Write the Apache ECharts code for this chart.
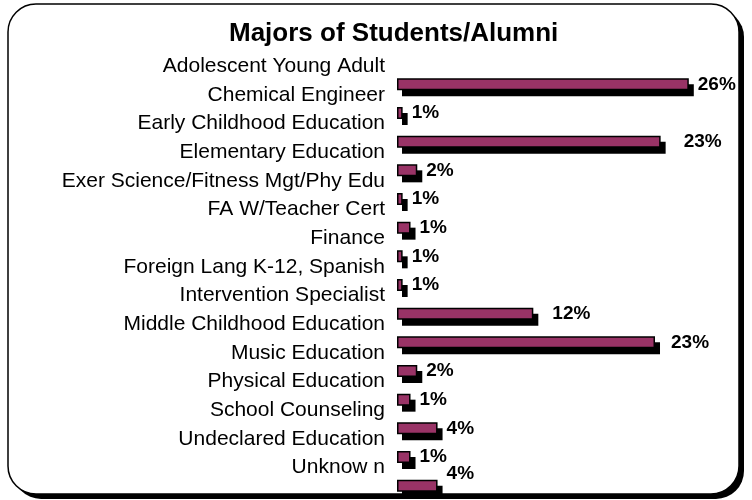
<!DOCTYPE html>
<html>
<head>
<meta charset="utf-8">
<script src="https://cdn.jsdelivr.net/npm/echarts@6/dist/echarts.min.js"></script>
<style>
html, body { margin: 0; padding: 0; background: #fff; }
#main { width: 752px; height: 500px; }
</style>
</head>
<body>
<div id="main"></div>
<script>
// 专业分布数据
var majors = [
	'Adolescent Young Adult',
	'Chemical Engineer',
	'Early Childhood Education',
	'Elementary Education',
	'Exer Science/Fitness Mgt/Phy Edu',
	'FA W/Teacher Cert',
	'Finance',
	'Foreign Lang K-12, Spanish',
	'Intervention Specialist',
	'Middle Childhood Education',
	'Music Education',
	'Physical Education',
	'School Counseling',
	'Undeclared Education',
	'Unknow n'
];
var shares = [25.9, 0.5, 23.4, 1.8, 0.5, 1.2, 0.5, 0.5, 12.1, 22.9, 1.8, 1.2, 3.6, 1.2, 3.6];

// Excel 的标签有些偏移
var labelNudge = { 2: [14, 0], 8: [10, 0], 9: [7, 0], 14: [0, -12] };

var myChart = echarts.init(document.getElementById('main'));

var seriesData = shares.map(function (v, i) {
	var item = { value: v };
	if (labelNudge[i]) {
		item.label = { offset: labelNudge[i] };
	}
	return item;
});
var shadowData = shares.map(function (v, i) {
	return [v, majors[i]];
});

var BAR_H = 12;

option = {
	animation: false,
	title: {
		text: 'Majors of Students/Alumni',
		left: 224,
		top: 16,
		z: 10,
		textStyle: {
			fontFamily: 'Liberation Sans, Arial',
			fontSize: 26,
			fontWeight: 'bold',
			color: '#000'
		}
	},
	graphic: [
		{   // 边框阴影
			type: 'rect',
			z: 0,
			shape: { x: 13, y: 9, width: 731, height: 490, r: 28 },
			style: { fill: '#000' }
		},
		{
			type: 'rect',
			z: 1,
			shape: { x: 8, y: 4, width: 731, height: 490, r: 28 },
			style: { fill: '#fff', stroke: '#000', lineWidth: 1.5 }
		}
	],
	grid: {
		left: 397,
		right: 17,
		top: 70,
		bottom: -4,
		containLabel: false
	},
	xAxis: {
		type: 'value',
		min: 0,
		max: 30,
		show: false
	},
	yAxis: {
		type: 'category',
		data: majors,
		inverse: true,
		z: 10,
		axisLine: { show: false },
		axisTick: { show: false },
		axisLabel: {
			interval: 0,
			margin: 12,
			formatter: function (v) {
				return '{t|' + v + '}';
			},
			rich: {
				t: {
					fontFamily: 'Liberation Sans, Arial',
					fontSize: 21,
					color: '#000',
					padding: [0, 0, 36, 0]
				}
			}
		}
	},
	series: [
		{   // 黑色阴影
			type: 'custom',
			z: 2,
			silent: true,
			data: shadowData,
			renderItem: function (params, api) {
				var start = api.coord([0, api.value(1)]);
				var end = api.coord([api.value(0), api.value(1)]);
				return {
					type: 'rect',
					shape: {
						x: start[0] + 5,
						y: start[1] - BAR_H / 2 + 6,
						width: end[0] - start[0],
						height: BAR_H
					},
					style: { fill: '#000' }
				};
			},
			encode: { x: 0, y: 1 }
		},
		{
			type: 'bar',
			z: 3,
			data: seriesData,
			barWidth: BAR_H,
			itemStyle: {
				color: '#993366',
				borderColor: '#000',
				borderWidth: 1.5
			},
			label: {
				show: true,
				position: 'right',
				distance: 9,
				fontFamily: 'Liberation Sans, Arial',
				fontSize: 19,
				fontWeight: 'bold',
				color: '#000',
				formatter: function (p) {
					return Math.round(p.value) + '%';
				}
			}
		}
	]
};

myChart.setOption(option);
window.onresize = myChart.resize;
</script>
</body>
</html>
